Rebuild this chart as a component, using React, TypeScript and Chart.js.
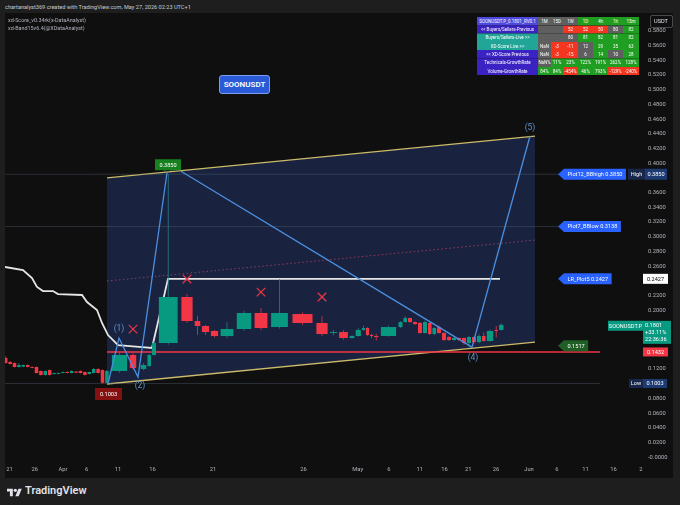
import React, { useEffect, useRef } from 'react';
import { Chart, registerables } from 'chart.js';

Chart.register(...registerables);

const FONT = 'Roboto, "Noto Sans", "DejaVu Sans", sans-serif';
const GREEN = '#089981';
const RED = '#f23645';

// ---------- time axis (compressed TradingView time scale, axis units) ----------
const timeLabels = ['21', '26', 'Apr', '6', '11', '16', '21', '26', 'May', '6', '11', '16', '21', '26', 'Jun', '6', '11', '16', '2'];
const timeTickPos = [9.5, 34.7, 62.9, 86.7, 118, 152.6, 213, 303.5, 357.7, 389, 419.8, 444.5, 468.3, 496, 529, 557, 585.4, 613.6, 641];

// ---------- price axis ----------
const priceTicks = [0.58, 0.56, 0.54, 0.52, 0.5, 0.48, 0.46, 0.44, 0.42, 0.4, 0.38, 0.36, 0.34, 0.32, 0.3, 0.28, 0.26, 0.24, 0.22, 0.2, 0.18, 0.16, 0.14, 0.12, 0.1, 0.08, 0.06, 0.04, 0.02, 0];

// ---------- candles (slot start / end along the time axis, OHLC) ----------
const slotStart = [3.5, 7.9, 12.3, 16.7, 21.1, 25.5, 29.9, 34.3, 38.7, 43.1, 47.5, 51.9, 56.3, 60.7, 65.1, 69.5, 73.9, 78.3, 82.7, 87.1, 91.5, 95.9, 100.3, 104.7,
  110, 129, 140, 147, 151.5, 156.5, 180, 194, 201, 210, 219, 235, 253, 269, 290, 315, 329, 338, 349, 355, 361.5, 365.5, 369.5, 373.5, 379, 398, 403, 407.5, 412.5, 417.5, 422.5, 427.5, 432, 436.5, 441.5, 446.5, 451.5, 456.5, 461.5, 466.5, 471.5, 476.5, 481.5, 486, 494, 498.5];
const slotEnd = [7.9, 12.3, 16.7, 21.1, 25.5, 29.9, 34.3, 38.7, 43.1, 47.5, 51.9, 56.3, 60.7, 65.1, 69.5, 73.9, 78.3, 82.7, 87.1, 91.5, 95.9, 100.3, 104.7, 109.1,
  129, 137, 147, 151.5, 156.5, 180, 194, 201, 210, 219, 235, 253, 269, 290, 315, 329, 338, 349, 355, 361.5, 365.5, 369.5, 373.5, 379, 398, 403, 407.5, 412.5, 417.5, 422.5, 427.5, 432, 436.5, 441.5, 446.5, 451.5, 456.5, 461.5, 466.5, 471.5, 476.5, 481.5, 486, 494, 498.5, 504];
const opens = [0.135, 0.1295, 0.1282, 0.1227, 0.1232, 0.1254, 0.1227, 0.1227, 0.1173, 0.1118, 0.1186, 0.1132, 0.1134, 0.1146, 0.1159, 0.1146, 0.1165, 0.1173, 0.1159, 0.1132, 0.1146, 0.12, 0.1186, 0.1012,
  0.1173, 0.1391, 0.12, 0.1241, 0.1391, 0.1554, 0.218, 0.1853, 0.1785, 0.1717, 0.1649, 0.1744, 0.1962, 0.1771, 0.1948, 0.1826, 0.169, 0.1703, 0.1622, 0.1649, 0.1731, 0.1758, 0.1663, 0.1649, 0.1649, 0.1771, 0.1839, 0.1894, 0.1839, 0.1826, 0.169, 0.1826, 0.1676, 0.1771, 0.169, 0.1635, 0.1595, 0.1622, 0.1622, 0.1554, 0.1635, 0.1567, 0.1649, 0.1581, 0.1731, 0.1731];
const highs = [0.1372, 0.131, 0.129, 0.1282, 0.1262, 0.1262, 0.1235, 0.1232, 0.118, 0.118, 0.1192, 0.115, 0.1152, 0.1165, 0.117, 0.118, 0.1172, 0.118, 0.1165, 0.1165, 0.1215, 0.121, 0.1195, 0.119,
  0.142, 0.142, 0.128, 0.14, 0.158, 0.385, 0.222, 0.1921, 0.18, 0.173, 0.1839, 0.199, 0.203, 0.2425, 0.197, 0.1921, 0.173, 0.173, 0.166, 0.176, 0.179, 0.177, 0.168, 0.168, 0.179, 0.185, 0.192, 0.19, 0.185, 0.184, 0.186, 0.184, 0.177, 0.179, 0.17, 0.165, 0.164, 0.163, 0.163, 0.165, 0.165, 0.168, 0.17, 0.174, 0.1785, 0.182];
const lows = [0.1275, 0.1262, 0.122, 0.122, 0.1225, 0.1222, 0.1208, 0.114, 0.1112, 0.1112, 0.1112, 0.1126, 0.1128, 0.114, 0.114, 0.114, 0.1144, 0.114, 0.1112, 0.1126, 0.114, 0.114, 0.1003, 0.1005,
  0.115, 0.119, 0.118, 0.123, 0.138, 0.153, 0.183, 0.1663, 0.1663, 0.163, 0.1622, 0.172, 0.173, 0.175, 0.18, 0.165, 0.166, 0.16, 0.161, 0.164, 0.172, 0.165, 0.162, 0.159, 0.164, 0.176, 0.183, 0.183, 0.18, 0.168, 0.168, 0.166, 0.166, 0.168, 0.158, 0.158, 0.158, 0.158, 0.153, 0.1497, 0.155, 0.155, 0.157, 0.157, 0.163, 0.1725];
const closes = [0.1282, 0.1268, 0.1227, 0.1254, 0.1254, 0.1227, 0.1214, 0.1146, 0.1118, 0.1173, 0.1118, 0.1146, 0.1146, 0.1159, 0.1146, 0.1173, 0.115, 0.1146, 0.1118, 0.1159, 0.12, 0.1146, 0.1012, 0.1173,
  0.1391, 0.1214, 0.1254, 0.1391, 0.1554, 0.218, 0.1853, 0.1785, 0.1703, 0.1649, 0.1744, 0.1962, 0.1758, 0.1962, 0.1826, 0.1676, 0.1703, 0.1622, 0.1649, 0.1731, 0.1758, 0.1663, 0.1649, 0.1635, 0.1771, 0.1839, 0.1894, 0.1839, 0.1812, 0.169, 0.1839, 0.1676, 0.1758, 0.169, 0.1595, 0.1595, 0.1622, 0.1595, 0.1554, 0.1635, 0.1567, 0.1649, 0.1581, 0.1717, 0.1717, 0.1801];

// ---------- channel & indicator lines ----------
const channelT = [107, 535];
const channelUpper = [0.38, 0.437];
const channelLower = [0.0996, 0.1567];
const channelMidDotted = [0.2397, 0.2955];
const supportT = [107, 600];
const supportLevel = 0.1432;
const bandT = [5, 23, 32, 37, 43, 53, 58, 82, 87, 97, 102, 108, 118, 142, 152, 168, 500];
const bandP = [0.2588, 0.2547, 0.2438, 0.2316, 0.2261, 0.2261, 0.222, 0.2207, 0.2111, 0.2003, 0.1826, 0.1662, 0.1526, 0.1499, 0.1486, 0.2427, 0.2427];
const refLevels = [0.385, 0.3138, 0.1003];
const refT = [5, 600];

// ---------- wave count ----------
const waveAT = [108, 119, 138, 167];
const waveAP = [0.1003, 0.1621, 0.1091, 0.387];
const waveBT = [181, 472, 530];
const waveBP = [0.389, 0.1497, 0.437];
const waveLabels = ['(1)', '(2)', '(3)', '(4)', '(5)'];
const waveLabelT = [119, 140, 168, 473, 530];
const waveLabelP = [0.1743, 0.0969, 0.3948, 0.135, 0.4479];
const crossT = [133, 187, 261, 322];
const crossP = [0.1743, 0.2424, 0.2247, 0.218];

// ---------- high / low markers and price tags ----------
const highT = 168;
const highP = 0.385;
const lowT = 108.5;
const lowP = 0.1003;
const tagTexts = ['Plot12_BBhigh 0.3850', 'Plot7_BBlow 0.3138', 'LR_Plot5 0.2427', '0.1517'];
const tagPrices = [0.385, 0.3138, 0.2427, 0.1517];
const lastPrice = 0.1801;
const lastChange = '+33.11%';
const lastTimer = '22:36:36';

// ---------- screener table ----------
const tableHeader = ['SOONUSDT.P_0.1801_RV0.1', '1M', '15D', '1W', '1D', '4h', '1h', '15m'];
const rowLabels = ['<< Buyers/Sellers-Previous', 'Buyers/Sellers-Live >>', 'XD-Score Live >>', '<< XD-Score Previous', 'Technicals-GrowthRate', 'Volume-GrowthRate'];
const rowValues = [
  ['', '', '52', '52', '50', '80', '82'],
  ['', '', '80', '81', '82', '81', '82'],
  ['NaN', '-3', '-11', '12', '29', '35', '63'],
  ['NaN', '-3', '-15', '6', '14', '10', '28'],
  ['NaN%', '11%', '23%', '122%', '191%', '262%', '128%'],
  ['84%', '84%', '-454%', '46%', '793%', '-129%', '-240%'],
];
const rowStates = [
  ['n', 'n', 'r', 'r', 'r', 'n', 'g'],
  ['n', 'n', 'n', 'g', 'g', 'g', 'g'],
  ['n', 'r', 'r', 'n', 'g', 'g', 'g'],
  ['n', 'r', 'r', 'n', 'g', 'n', 'g'],
  ['n', 'g', 'g', 'g', 'g', 'g', 'g'],
  ['g', 'g', 'r', 'g', 'g', 'r', 'r'],
];
const rowLabelKind = ['p', 't', 't', 'p', 'p', 'p'];

const stateColor: Record<string, string> = { n: '#5f5f5f', r: '#f2361f', g: '#1f9e22' };

function drawBox(ctx: CanvasRenderingContext2D, x: number, yc: number, w: number, h: number, bg: string, text: string, fg: string, arrow = false) {
  ctx.fillStyle = bg;
  ctx.beginPath();
  if (arrow) {
    ctx.moveTo(x, yc);
    ctx.lineTo(x + 6, yc - h / 2);
    ctx.lineTo(x + w, yc - h / 2);
    ctx.lineTo(x + w, yc + h / 2);
    ctx.lineTo(x + 6, yc + h / 2);
    ctx.closePath();
  } else {
    ctx.rect(x, yc - h / 2, w, h);
  }
  ctx.fill();
  ctx.fillStyle = fg;
  ctx.textAlign = 'center';
  ctx.textBaseline = 'middle';
  ctx.fillText(text, x + (arrow ? 3 : 0) + w / 2, yc + 0.5);
}

const overlayPlugin = {
  id: 'overlay',
  afterDatasetsDraw(chart: any) {
    const { ctx, scales } = chart;
    const x = scales.x;
    const y = scales.y;
    ctx.save();
    ctx.font = `8.5px ${FONT}`;
    ctx.fillStyle = '#5f93cf';
    ctx.textAlign = 'center';
    ctx.textBaseline = 'middle';
    waveLabels.forEach((t, i) => ctx.fillText(t, x.getPixelForValue(waveLabelT[i]), y.getPixelForValue(waveLabelP[i])));
    ctx.font = `5.6px ${FONT}`;
    drawBox(ctx, x.getPixelForValue(highT) - 13, y.getPixelForValue(highP) - 9.5, 26, 11, '#17801f', highP.toFixed(4), '#ffffff');
    drawBox(ctx, x.getPixelForValue(lowT) - 13.5, y.getPixelForValue(lowP) + 10.5, 27, 12, '#851010', lowP.toFixed(4), '#ffffff');
    ctx.restore();
  },
  afterDraw(chart: any) {
    const { ctx, scales, chartArea } = chart;
    const x = scales.x;
    const y = scales.y;
    const R = chartArea.right;
    ctx.save();
    // time labels (some of them sit under the price scale, as in TradingView)
    ctx.font = `5.8px ${FONT}`;
    ctx.fillStyle = '#b2b5be';
    ctx.textAlign = 'center';
    ctx.textBaseline = 'middle';
    timeLabels.forEach((t, i) => ctx.fillText(t, x.getPixelForValue(timeTickPos[i]), chartArea.bottom + 8));

    ctx.font = `5.6px ${FONT}`;
    // arrow tags
    tagTexts.forEach((t, i) => {
      const w = ctx.measureText(t).width + 13;
      const bg = i === 3 ? '#1f5f25' : '#2962ff';
      drawBox(ctx, x.getPixelForValue(558), y.getPixelForValue(tagPrices[i]), w, 11, bg, t, '#ffffff', true);
    });
    // High
    const yh = y.getPixelForValue(highP);
    drawBox(ctx, R + 28, yh, 17, 11, '#17264a', 'High', '#ffffff');
    drawBox(ctx, R + 45, yh, 22, 11, '#1d3a73', highP.toFixed(4), '#ffffff');
    // LR value
    const ylr = y.getPixelForValue(tagPrices[2]);
    ctx.fillStyle = '#ffffff';
    ctx.fillRect(R + 43, ylr - 5, 25, 10);
    ctx.fillStyle = '#000000';
    ctx.fillText(tagPrices[2].toFixed(4), R + 55.5, ylr + 0.5);
    // last price
    const yl = y.getPixelForValue(lastPrice);
    drawBox(ctx, R + 8, yl + 1, 35, 10, GREEN, 'SOONUSDT.P', '#ffffff');
    ctx.fillStyle = GREEN;
    ctx.fillRect(R + 43, yl - 4, 28, 23);
    ctx.fillStyle = '#ffffff';
    ctx.textAlign = 'left';
    ctx.fillText(lastPrice.toFixed(4), R + 45, yl + 1);
    ctx.fillText(lastChange, R + 45, yl + 8);
    ctx.fillText(lastTimer, R + 45, yl + 15);
    // support
    drawBox(ctx, R + 43, y.getPixelForValue(supportLevel), 25, 9, RED, supportLevel.toFixed(4), '#ffffff');
    // Low
    const ylo = y.getPixelForValue(lowP);
    drawBox(ctx, R + 29, ylo, 14, 9, '#17264a', 'Low', '#ffffff');
    drawBox(ctx, R + 43, ylo, 24, 9, '#1d3a73', lowP.toFixed(4), '#ffffff');
    ctx.restore();
  },
};

function Small(props: { x: number; y: number; size: number; color?: string; weight?: number; children: any }) {
  return (
    <div
      style={{
        position: 'absolute', left: props.x, top: props.y, fontSize: props.size * 2, transform: 'scale(0.5)',
        transformOrigin: '0 0', color: props.color || '#c9ccd3', whiteSpace: 'nowrap', lineHeight: 1, fontWeight: props.weight || 400,
      }}
    >
      {props.children}
    </div>
  );
}

const colW = [122, 26, 24, 30, 30, 30, 30, 32];
const rowH = 16.6;

function ScreenTable() {
  const labelBg = (k: string) => (k === 't' ? '#21a596' : '#3b22c2');
  const cell = (bg: string, text: string, w: number, key: string) => (
    <div key={key} style={{ width: w, height: rowH, background: bg, color: '#ffffff', fontSize: 9, display: 'flex', alignItems: 'center', justifyContent: 'center', whiteSpace: 'nowrap', overflow: 'hidden' }}>{text}</div>
  );
  return (
    <div style={{ position: 'absolute', left: 477, top: 17, transform: 'scale(0.5)', transformOrigin: '0 0', fontFamily: FONT }}>
      <div style={{ display: 'flex' }}>
        {tableHeader.map((h, i) => cell(i === 0 ? '#4d49db' : i <= 3 ? '#5f5f5f' : '#1f9e22', h, colW[i], 'h' + i))}
      </div>
      {rowLabels.map((lab, r) => (
        <div key={'r' + r} style={{ display: 'flex' }}>
          {cell(labelBg(rowLabelKind[r]), lab, colW[0], 'l' + r)}
          {rowValues[r].map((v, c) => cell(stateColor[rowStates[r][c]], v, colW[c + 1], 'c' + r + c))}
        </div>
      ))}
    </div>
  );
}

export default function App() {
  const ref = useRef<HTMLCanvasElement>(null);

  useEffect(() => {
    document.body.style.margin = '0';
    document.body.style.background = '#1e1e1e';
    const canvas = ref.current;
    if (!canvas) return;

    const mids = slotStart.map((s, i) => (s + slotEnd[i]) / 2);
    const pts = (ts: number[], ps: number[]) => ts.map((t, i) => ({ x: t, y: ps[i] }));
    const line = (data: any[], color: string, width: number, order: number, extra: any = {}) => ({
      type: 'line', data, borderColor: color, borderWidth: width, pointRadius: 0, fill: false, tension: 0, order, ...extra,
    });

    const wickData = (up: boolean) => {
      const out: any[] = [];
      opens.forEach((o, i) => {
        if ((closes[i] >= o) !== up) return;
        out.push({ x: mids[i], y: lows[i] }, { x: mids[i], y: highs[i] }, { x: mids[i], y: null });
      });
      return out;
    };

    const bodies = opens.map((o, i) => {
      const c = closes[i];
      let lo = Math.min(o, c);
      let hi = Math.max(o, c);
      if (hi - lo < 0.0012) {
        const m = (hi + lo) / 2;
        lo = m - 0.0006;
        hi = m + 0.0006;
      }
      return line([{ x: mids[i], y: lo }, { x: mids[i], y: hi }], c >= o ? GREEN : RED, 1, 30, {
        borderCapStyle: 'butt',
        borderWidth: (ctx: any) => {
          const xs = ctx.chart.scales.x;
          if (!xs) return 3;
          return Math.max(1, (xs.getPixelForValue(slotEnd[i]) - xs.getPixelForValue(slotStart[i])) * 0.8);
        },
      });
    });

    const datasets: any[] = [
      line(pts(channelT, channelUpper), '#cdbb6a', 1.3, 100, { fill: { target: 1 }, backgroundColor: '#19233f' }),
      line(pts(channelT, channelLower), '#cdbb6a', 1.3, 99),
      line(pts(channelT, channelMidDotted), 'rgba(190,70,110,0.7)', 1, 95, { borderDash: [1.5, 2.5] }),
      ...refLevels.map((p) => line(pts(refT, [p, p]), 'rgba(95,105,130,0.35)', 1, 96)),
      line(pts(supportT, [supportLevel, supportLevel]), RED, 1.5, 50),
      line(pts(bandT, bandP), '#e6e6e6', 1.8, 45),
      line(wickData(true), 'rgba(40,130,140,0.75)', 1, 31, { spanGaps: false }),
      line(wickData(false), 'rgba(242,54,69,0.75)', 1, 31, { spanGaps: false }),
      ...bodies,
      line(pts(waveAT, waveAP), '#4b8fe0', 1.3, 20),
      line(pts(waveBT, waveBP), '#4b8fe0', 1.3, 20),
      line(pts(crossT, crossP), RED, 0, 10, {
        showLine: false, pointStyle: 'crossRot', pointRadius: 6, pointBorderColor: RED, pointBorderWidth: 1.2,
      }),
    ];

    const chart = new Chart(canvas, {
      type: 'line',
      data: { datasets },
      options: {
        animation: false,
        responsive: false,
        maintainAspectRatio: false,
        layout: { padding: 0, autoPadding: false },
        plugins: { legend: { display: false }, tooltip: { enabled: false } },
        elements: { point: { radius: 0 } },
        scales: {
          x: {
            type: 'linear',
            min: 5,
            max: 600,
            grid: { display: false },
            border: { display: false },
            ticks: { display: false },
            afterFit: (s: any) => { s.height = 16; s.paddingLeft = 0; s.paddingRight = 0; },
          },
          y: {
            position: 'right',
            min: -0.00653,
            max: 0.6044,
            grid: { display: false, drawTicks: false },
            border: { display: false },
            afterBuildTicks: (s: any) => { s.ticks = priceTicks.map((v) => ({ value: v })); },
            afterFit: (s: any) => { s.width = 73; s.paddingTop = 0; s.paddingBottom = 0; },
            ticks: {
              color: '#b2b5be',
              padding: 48,
              font: { size: 5.8, family: FONT },
              callback: (v: any) => (Number(v) === 0 ? '-0.0000' : Number(v).toFixed(4)),
            },
          },
        },
      } as any,
      plugins: [overlayPlugin],
    } as any);
    return () => chart.destroy();
  }, []);

  return (
    <div style={{ position: 'relative', width: 680, height: 505, background: '#1e1e1e', overflow: 'hidden', fontFamily: FONT }}>
      <Small x={5} y={4} size={5.6}>chartanalyst369 created with TradingView.com, May 27, 2026 02:23 UTC+1</Small>
      <div style={{ position: 'absolute', left: 5, top: 13, width: 668, height: 465, background: '#0f0f0f' }}>
        <canvas ref={ref} width={668} height={465} style={{ display: 'block', width: 668, height: 465 }} />
      </div>
      <Small x={8} y={18} size={5.4} color="#b2b5be">xd-Score_v0.34rk(x-DataAnalyst)</Small>
      <Small x={8} y={26} size={5.4} color="#b2b5be">xd-Band15v6.4(@XDataAnalyst)</Small>
      <ScreenTable />
      <div style={{ position: 'absolute', left: 650, top: 15, width: 21, height: 11, border: '1px solid #4a4a4a', borderRadius: 2, background: '#0f0f0f' }} />
      <Small x={654} y={18} size={5.6} color="#e0e3eb">USDT</Small>
      <div style={{ position: 'absolute', left: 219, top: 75, width: 49, height: 17, background: '#2b5ad6', border: '1px solid #7d9df2', borderRadius: 3, color: '#ffffff', fontSize: 8, fontWeight: 600, display: 'flex', alignItems: 'center', justifyContent: 'center' }}>SOONUSDT</div>
      <svg style={{ position: 'absolute', left: 7, top: 487 }} width={15} height={10} viewBox="0 0 36 24">
        <path d="M14 22H7V11H0V4h14v18z" fill="#e1e3ea" />
        <path d="M28 22h-8l7.5-18h8L28 22z" fill="#e1e3ea" />
        <circle cx="20" cy="8" r="4" fill="#e1e3ea" />
      </svg>
      <div style={{ position: 'absolute', left: 25, top: 484, color: '#e1e3ea', fontSize: 11, fontWeight: 600, whiteSpace: 'nowrap' }}>TradingView</div>
    </div>
  );
}
